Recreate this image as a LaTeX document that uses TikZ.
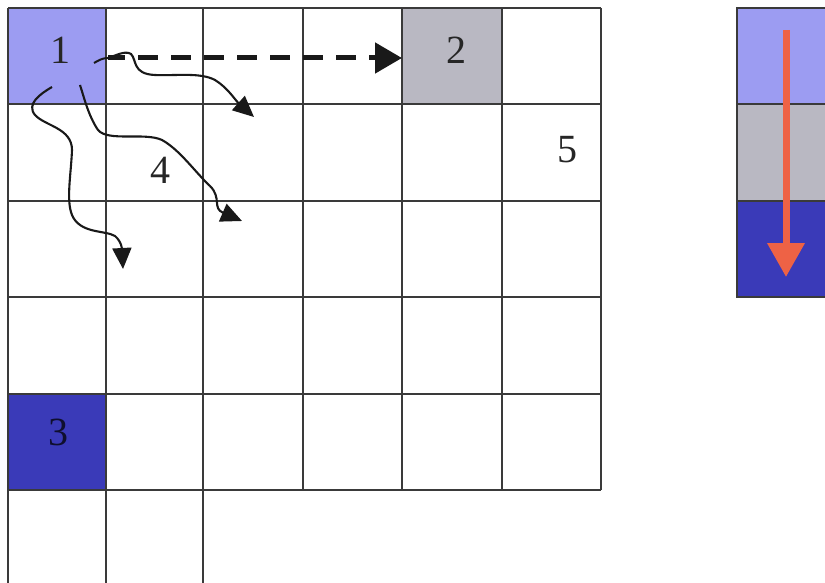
\documentclass[tikz,border=0pt]{standalone}
\usepackage{fontspec}
\setmainfont{Liberation Serif}
\usetikzlibrary{arrows.meta}
\definecolor{lightcell}{HTML}{9C9CF2}
\definecolor{graycell}{HTML}{B9B8C2}
\definecolor{darkcell}{HTML}{3A3AB8}
\definecolor{gridline}{HTML}{3A3A3A}
\definecolor{redarrow}{HTML}{EE6245}
\tikzset{
  gridstyle/.style={draw=gridline, line width=1.6pt},
  celllabel/.style={font=\fontsize{40}{40}\selectfont, text=black!85, inner sep=0pt},
  wavy/.style={draw=black!90, line width=2.1pt, -{Triangle[length=21pt,width=19pt]}},
  dasharrow/.style={draw=black!90, line width=5pt, dash pattern=on 20pt off 13pt, -{Triangle[length=27pt,width=30pt]}},
  redstyle/.style={draw=redarrow, line width=7pt, -{Triangle[length=34pt,width=36pt]}}
}
\begin{document}
\begin{tikzpicture}[x=1pt,y=-1pt]
\useasboundingbox (0,0) rectangle (825,583);
\clip (0,0) rectangle (825,583);
% fills
\fill[lightcell] (8,8) rectangle (106,104);
\fill[graycell] (402,8) rectangle (502,104);
\fill[darkcell] (8,394) rectangle (106,490);
\fill[lightcell] (737,8) rectangle (830,104);
\fill[graycell] (737,104) rectangle (830,201);
\fill[darkcell] (737,201) rectangle (830,297);
% grid horizontal
\foreach \y in {8,104,201,297,394,490}
  \draw[gridstyle] (8,\y) -- (601,\y);
% grid vertical
\foreach \x in {8,106,203}
  \draw[gridstyle] (\x,8) -- (\x,590);
\foreach \x in {303,402,502,601}
  \draw[gridstyle] (\x,8) -- (\x,490);
% right column
\draw[gridstyle] (830,8) -- (737,8) -- (737,297) -- (830,297);
\draw[gridstyle] (737,104) -- (830,104);
\draw[gridstyle] (737,201) -- (830,201);
% labels
\node[celllabel] (n1) at (60,50) {1};
\node[celllabel] (n2) at (456,50) {2};
\node[celllabel, text=black!75!darkcell] (n3) at (58,432) {3};
\node[celllabel] (n4) at (160,170) {4};
\node[celllabel] (n5) at (567,150) {5};
% arrow coordinates
\coordinate (s0) at (94,63);
\coordinate (d0) at (108,58);
\coordinate (e0) at (402,58);
\coordinate (s1) at (108,58);
\coordinate (e1) at (254,117);
\coordinate (s2) at (80,85);
\coordinate (e2) at (242,221);
\coordinate (s3) at (52,87);
\coordinate (e3) at (123,269);
\coordinate (rs) at (786,30);
\coordinate (re) at (786,277);
% dashed arrow
\draw[black!90, line width=2pt] (s0) .. controls (99,60) and (103,58) .. (d0);
\draw[black!90, line width=5pt] (d0) -- (125,58);
\draw[dasharrow] (138,58) -- (e0);
% wavy arrow 1
\draw[wavy] (s1) .. controls (115,56) and (125,50) .. (131,54)
  .. controls (137,60) and (132,74) .. (155,75)
  .. controls (175,76) and (200,72) .. (215,80)
  .. controls (228,88) and (235,100) .. (e1);
% wavy arrow 2
\draw[wavy] (s2) .. controls (84,97) and (88,115) .. (98,130)
  .. controls (108,142) and (145,132) .. (162,140)
  .. controls (180,150) and (195,172) .. (210,186)
  .. controls (222,198) and (212,208) .. (e2);
% wavy arrow 3
\draw[wavy] (s3) .. controls (40,94) and (26,104) .. (35,115)
  .. controls (45,126) and (72,128) .. (72,150)
  .. controls (71,175) and (66,200) .. (72,215)
  .. controls (80,234) and (105,230) .. (115,236)
  .. controls (122,242) and (122,250) .. (e3);
% red arrow
\draw[redstyle] (rs) -- (re);
\end{tikzpicture}
\end{document}
